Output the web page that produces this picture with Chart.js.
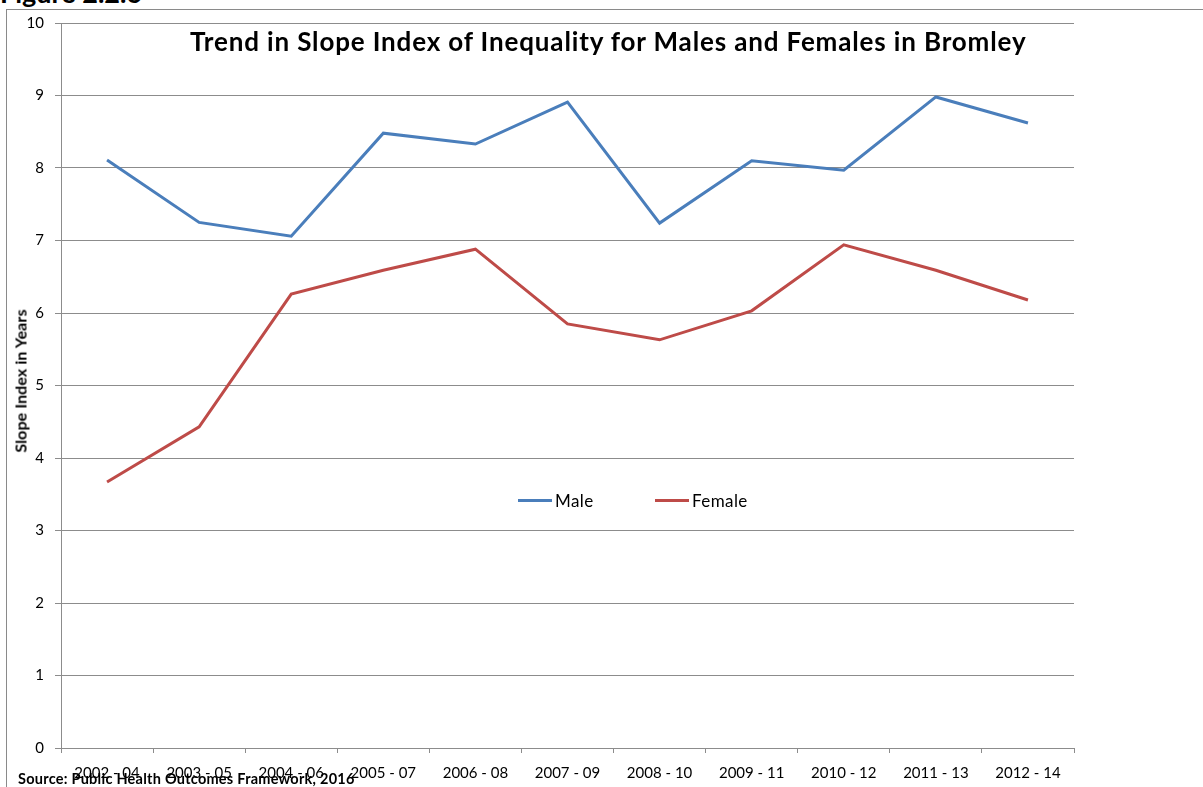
<!DOCTYPE html>
<html>
<head>
<meta charset="utf-8">
<script src="https://cdn.jsdelivr.net/npm/chart.js@4.4.1/dist/chart.umd.min.js"></script>
<style>
  html, body { margin: 0; padding: 0; background: #fff; overflow: hidden; }
  body { width: 1203px; height: 787px; position: relative; font-family: Lato, "Open Sans", sans-serif; }
  #frame { position: absolute; left: 6px; top: 9px; width: 1400px; height: 1000px; border: 1px solid #8a8a8a; box-sizing: border-box; }
  #fig { position: absolute; left: 0px; top: -24px; font: bold 27px Lato, sans-serif; color: #000; white-space: nowrap; }
  #wrap { position: absolute; left: 0; top: 0; width: 1203px; height: 787px; }
  #title { position: absolute; left: 190px; top: 25px; font: bold 26px Lato, sans-serif; letter-spacing: 0.85px; color: #000; white-space: nowrap; }
  #ytitle { position: absolute; left: 20px; top: 381px; transform: translate(-50%, -50%) rotate(-90deg); font: bold 16px Lato, sans-serif; letter-spacing: 0.1px; color: #000; white-space: nowrap; }
  .legend-item { position: absolute; top: 490px; display: flex; align-items: center; font: 17px Lato, sans-serif; letter-spacing: 0.4px; color: #000; white-space: nowrap; }
  .legend-item .swatch { width: 34px; height: 3px; margin-right: 3px; }
  #source { position: absolute; left: 18px; top: 770px; font: bold 14.5px Lato, sans-serif; letter-spacing: 0.25px; color: #000; white-space: nowrap; }
</style>
</head>
<body>
<div id="fig">Figure 2.2.6</div>
<div id="frame"></div>
<div id="wrap"><canvas id="chart" width="1203" height="787"></canvas></div>
<div id="title">Trend in Slope Index of Inequality for Males and Females in Bromley</div>
<div id="ytitle">Slope Index in Years</div>
<div id="source">Source: Public Health Outcomes Framework, 2016</div>
<script>
const periods = ["2002 - 04", "2003 - 05", "2004 - 06", "2005 - 07", "2006 - 08", "2007 - 09",
  "2008 - 10", "2009 - 11", "2010 - 12", "2011 - 13", "2012 - 14"];
const maleValues = [8.11, 7.25, 7.06, 8.48, 8.33, 8.91, 7.24, 8.10, 7.97, 8.98, 8.62];
const femaleValues = [3.67, 4.43, 6.26, 6.59, 6.88, 5.85, 5.63, 6.03, 6.94, 6.59, 6.18];
const seriesNames = ["Male", "Female"];
const seriesColors = ["#4a7ebb", "#be4b48"];
const legendLeft = [518, 655];

const gridColor = "#8c8c8c";

const chart = new Chart(document.getElementById("chart"), {
  type: "line",
  data: {
    labels: periods,
    datasets: [maleValues, femaleValues].map((vals, i) => ({
      label: seriesNames[i],
      data: vals,
      borderColor: seriesColors[i],
      backgroundColor: seriesColors[i],
      borderWidth: 3,
      pointRadius: 0,
      tension: 0,
      fill: false,
    })),
  },
  options: {
    responsive: false,
    animation: false,
    layout: { padding: { left: 5, right: 129, top: 23, bottom: 0 } },
    plugins: { legend: { display: false }, tooltip: { enabled: false } },
    scales: {
      x: {
        offset: true,
        grid: { offset: true, drawOnChartArea: false, drawTicks: true, tickLength: 5, color: gridColor },
        border: { color: gridColor },
        ticks: { color: "#000", font: { family: "Lato", size: 15 }, padding: 11, maxRotation: 0, autoSkip: false },
        afterFit: (s) => { s.height = 39; },
      },
      y: {
        min: 0,
        max: 10,
        ticks: { stepSize: 1, color: "#000", font: { family: "Lato", size: 15 }, padding: 11 },
        grid: { color: gridColor, tickLength: 6 },
        border: { color: gridColor },
        afterFit: (s) => { s.width = 56; },
      },
    },
  },
});

// legend built from the series
seriesNames.forEach((name, i) => {
  const item = document.createElement("div");
  item.className = "legend-item";
  item.style.left = legendLeft[i] + "px";
  item.innerHTML = `<span class="swatch" style="background:${seriesColors[i]}"></span><span>${name}</span>`;
  document.body.appendChild(item);
});
</script>
</body>
</html>
